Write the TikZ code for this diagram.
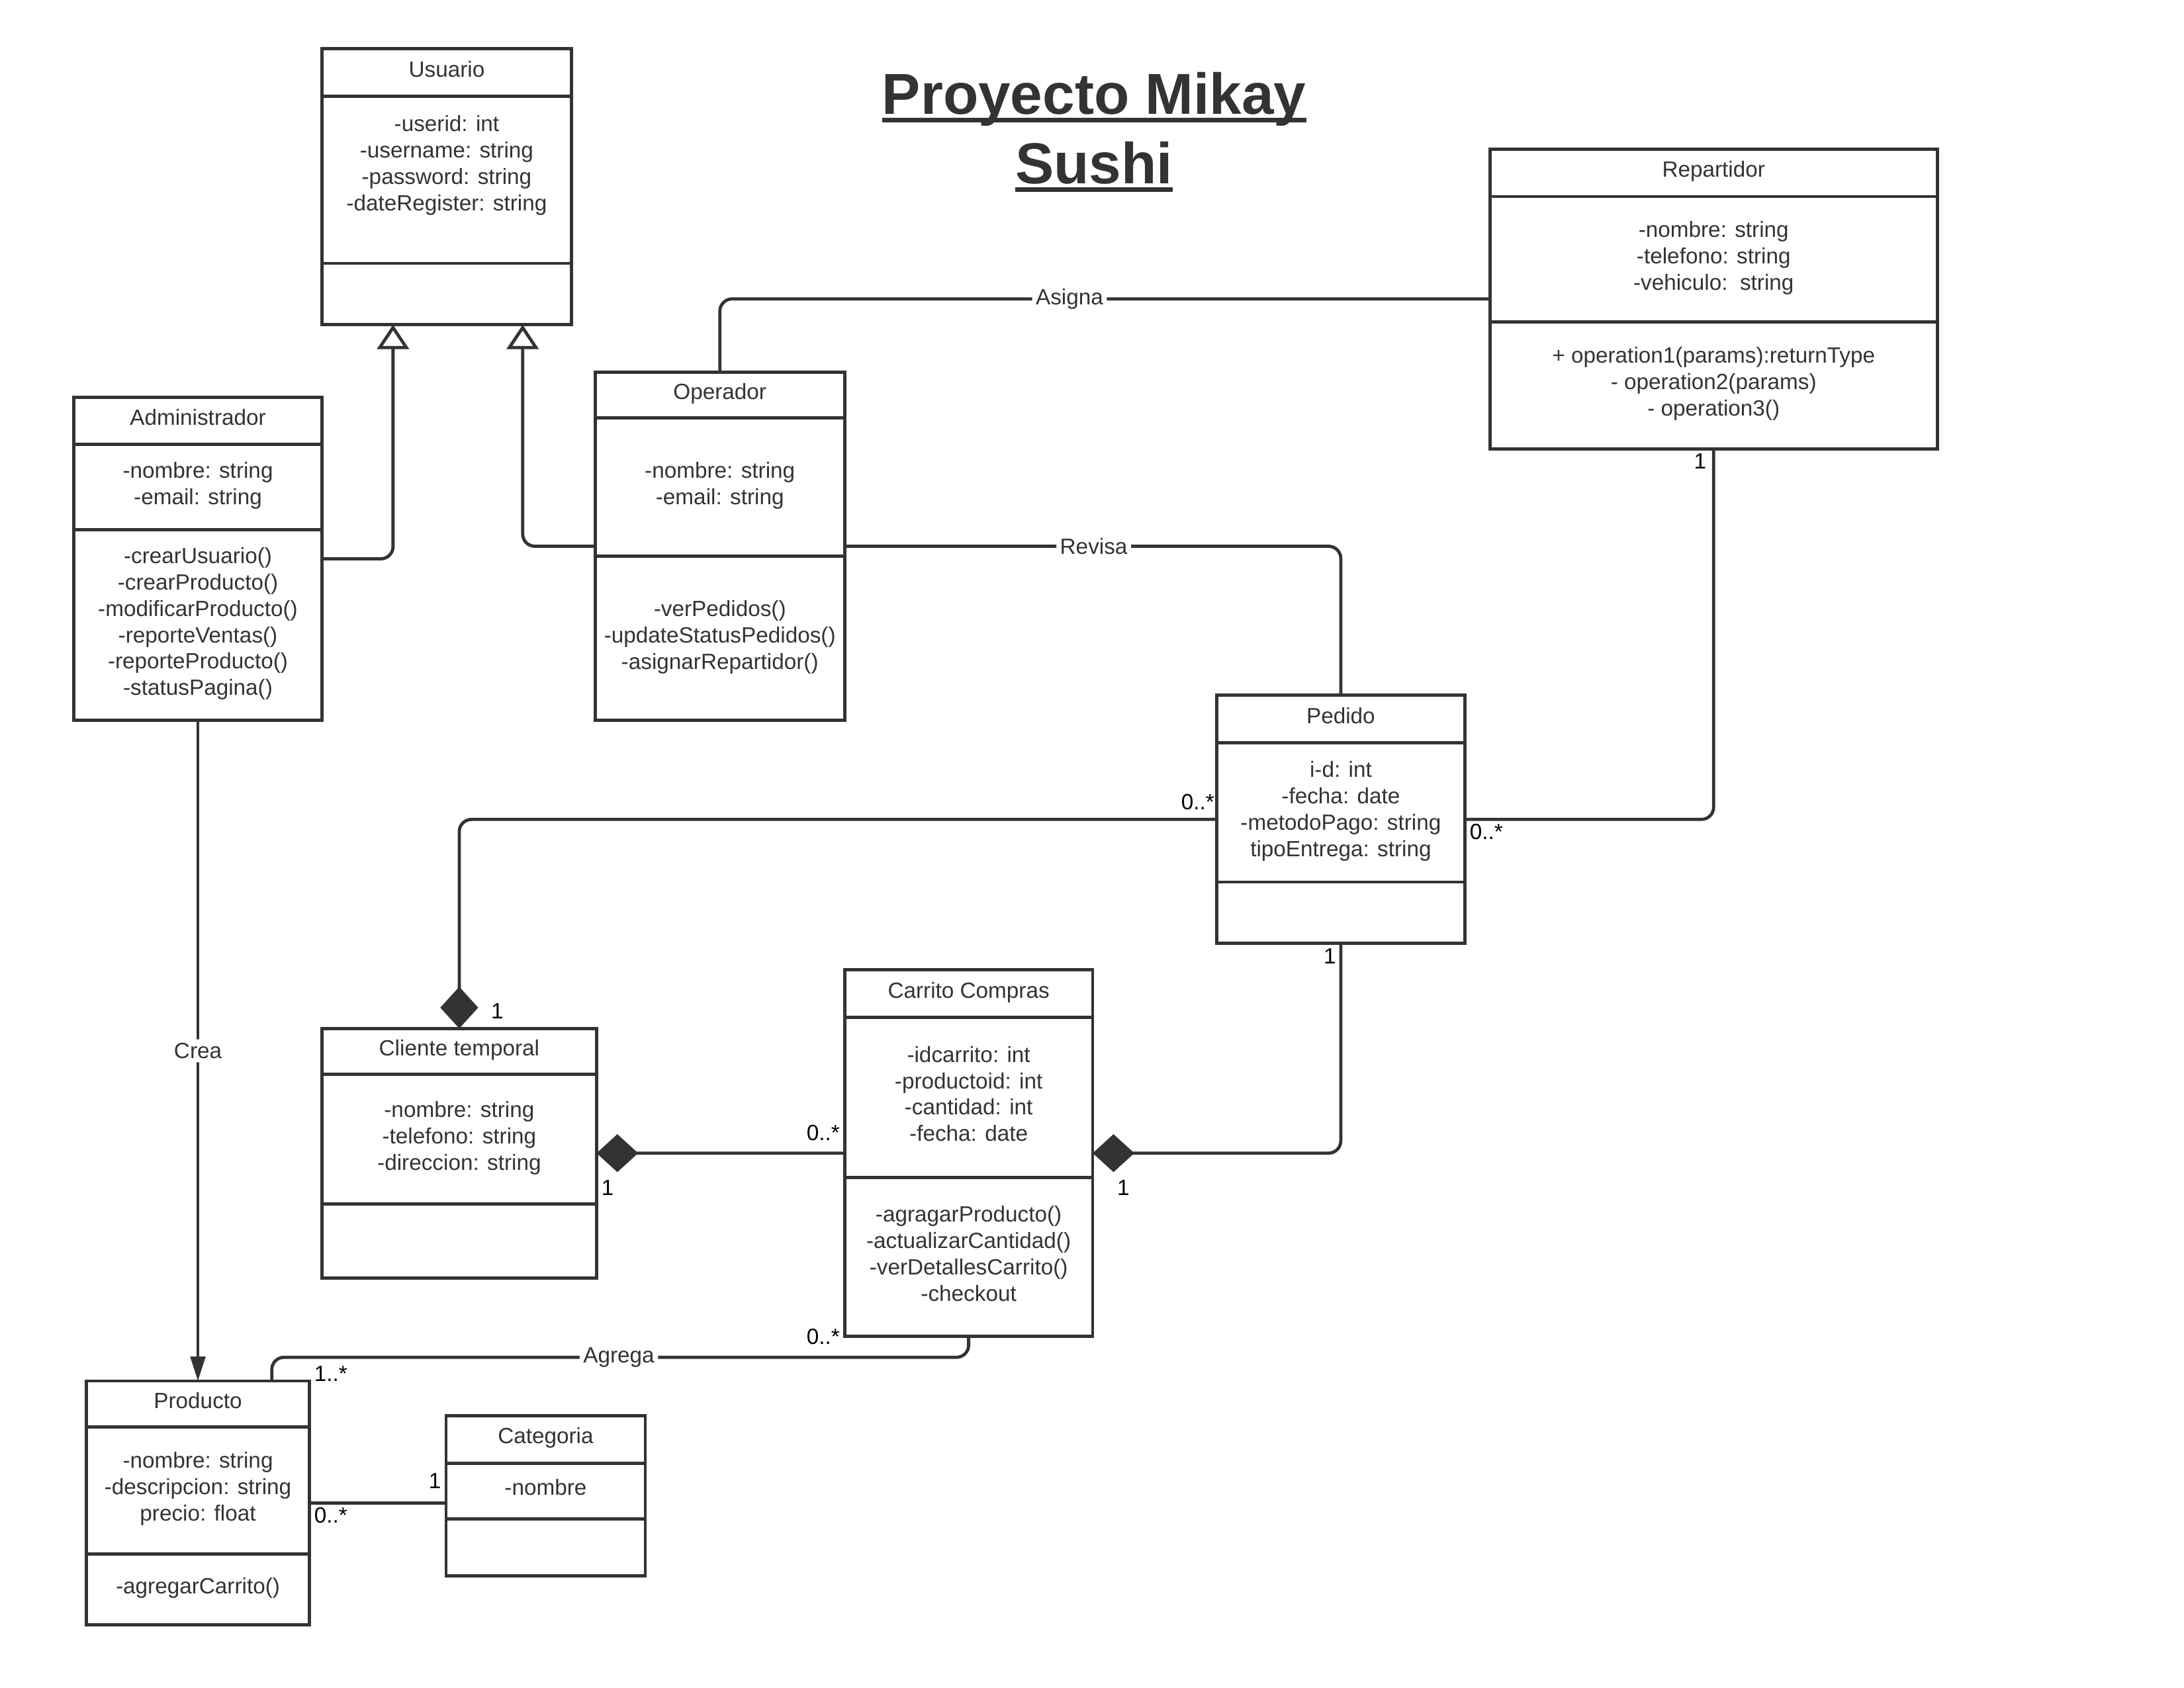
\documentclass[tikz,border=0pt]{standalone}
\usepackage{fontspec}
\setmainfont{Liberation Sans}
\usetikzlibrary{positioning,fit,calc,arrows.meta}
\definecolor{tinta}{HTML}{333333}

\begin{document}
\begin{tikzpicture}[
  x=0.02cm, y=-0.02cm,
  font=\fontsize{9}{10.8}\selectfont, text=tinta,
  every node/.style={inner sep=0pt, outer sep=0pt},
  node distance=0pt
]
\tikzset{
  caixa/.style 2 args={draw=tinta, line width=1.3pt, align=center, text depth=3pt,
    minimum width=#1*0.02cm, minimum height=#2*0.02cm},
  classe/.style={inner sep=0pt, outer sep=0pt},
  liga/.style={draw=tinta, line width=1.3pt, rounded corners=5pt},
  rotulo/.style={fill=white, inner sep=1.5pt},
  mult/.style={text=black, inner sep=2pt},
  heranca/.style={-{Triangle[open, length=10pt, width=13pt]}},
  comp/.style={{Diamond[length=17pt, width=15.5pt]}-},
  titulo/.style={font={\fontsize{23.6}{28}\selectfont\bfseries}, anchor=base}
}
\useasboundingbox (0,0) rectangle (1567,1211);

% titulo
\node[titulo] (tit1) at (785,82) {Proyecto Mikay};
\node[titulo] (tit2) at (785,132) {Sushi};
\draw[tinta, line width=2pt] ([yshift=-2.3pt]tit1.base west) -- ([yshift=-2.3pt]tit1.base east);
\draw[tinta, line width=2pt] ([yshift=-2.3pt]tit2.base west) -- ([yshift=-2.3pt]tit2.base east);

% Usuario
\node[caixa={179}{34}] (usrH) at (320.5,52) {Usuario};
\node[caixa={179}{120}, below=of usrH] (usrA) {-userid: int\\-username: string\\-password: string\\-dateRegister: string\\ ~};
\node[caixa={179}{44}, below=of usrA] (usrM) {};
\node[classe, fit=(usrH)(usrM)] (usr) {};

% Administrador
\node[caixa={178}{34}] (admH) at (142,302) {Administrador};
\node[caixa={178}{61}, below=of admH] (admA) {-nombre: string\\-email: string};
\node[caixa={178}{137}, below=of admA] (admM) {-crearUsuario()\\-crearProducto()\\-modificarProducto()\\-reporteVentas()\\-reporteProducto()\\-statusPagina()};
\node[classe, fit=(admH)(admM)] (adm) {};

% Operador
\node[caixa={179}{33}] (opeH) at (516.5,283.5) {Operador};
\node[caixa={179}{99}, below=of opeH] (opeA) {-nombre: string\\-email: string};
\node[caixa={179}{118}, below=of opeA] (opeM) {-verPedidos()\\-updateStatusPedidos()\\-asignarRepartidor()};
\node[classe, fit=(opeH)(opeM)] (ope) {};

% Repartidor
\node[caixa={321}{34}] (repH) at (1229.5,124) {Repartidor};
\node[caixa={321}{90}, below=of repH] (repA) {-nombre: string\\-telefono: string\\-vehiculo:\ \ string};
\node[caixa={321}{91}, below=of repA] (repM) {+ operation1(params):returnType\\- operation2(params)\\- operation3()};
\node[classe, fit=(repH)(repM)] (rep) {};

% Pedido
\node[caixa={178}{34}] (pedH) at (962,516) {Pedido};
\node[caixa={178}{100}, below=of pedH] (pedA) {i-d: int\\-fecha: date\\-metodoPago: string\\tipoEntrega: string};
\node[caixa={178}{44}, below=of pedA] (pedM) {};
\node[classe, fit=(pedH)(pedM)] (ped) {};

% Cliente temporal
\node[caixa={197}{33}] (cliH) at (329.5,754.5) {Cliente temporal};
\node[caixa={197}{93}, below=of cliH] (cliA) {-nombre: string\\-telefono: string\\-direccion: string};
\node[caixa={197}{53}, below=of cliA] (cliM) {};
\node[classe, fit=(cliH)(cliM)] (cli) {};

% Carrito Compras
\node[caixa={178}{34}] (carH) at (695,713) {Carrito Compras};
\node[caixa={178}{115}, below=of carH] (carA) {-idcarrito: int\\-productoid: int\\-cantidad: int\\-fecha: date};
\node[caixa={178}{114}, below=of carA] (carM) {-agragarProducto()\\-actualizarCantidad()\\-verDetallesCarrito()\\-checkout};
\node[classe, fit=(carH)(carM)] (car) {};

% Producto
\node[caixa={160}{33}] (proH) at (142,1007.5) {Producto};
\node[caixa={160}{91}, below=of proH] (proA) {-nombre: string\\-descripcion: string\\precio: float};
\node[caixa={160}{51}, below=of proA] (proM) {-agregarCarrito()};
\node[classe, fit=(proH)(proM)] (pro) {};

% Categoria
\node[caixa={143}{34}] (catH) at (391.5,1033) {Categoria};
\node[caixa={143}{40}, below=of catH] (catA) {-nombre};
\node[caixa={143}{41}, below=of catA] (catM) {};
\node[classe, fit=(catH)(catM)] (cat) {};

% heranca
\draw[liga, heranca] (adm.east) -| ($(usr.south)+(-38.5,0)$);
\draw[liga, heranca] (ope.west) -| ($(usr.south)+(54.5,0)$);

% associacoes
\draw[liga] (ope.north) |- node[rotulo, pos=0.727] (lAsi) {Asigna} (rep.west);
\draw[liga] (ope.east) -| node[rotulo, pos=0.251] (lRev) {Revisa} (ped.north);
\draw[liga] (rep.south) |- (ped.east)
  node[mult, at start, below left, xshift=-1pt] (mRep) {1}
  node[mult, at end, below right] (mPed1) {0..*};
\draw[liga, comp] (cli.north) |- (ped.west)
  node[mult, at start, above right, xshift=11pt, yshift=2pt] (mCli1) {1}
  node[mult, at end, above left, xshift=1pt, yshift=2pt] (mPed2) {0..*};
\draw[liga, comp] (cli.east) -- (car.west)
  node[mult, at start, below right, yshift=-9pt] (mCli2) {1}
  node[mult, at end, above left, yshift=3pt] (mCar1) {0..*};
\draw[liga, comp] (car.east) -| (ped.south)
  node[mult, at start, below right, xshift=8pt, yshift=-9pt] (mCar3) {1}
  node[mult, at end, below left] (mPed3) {1};
\draw[liga, -{Triangle[length=10pt, width=6pt]}] (adm.south) -- node[rotulo] (lCrea) {Crea} (pro.north);
\draw[liga] (car.south) -- ++(0,15) -| node[rotulo, pos=0.251] (lAgr) {Agrega} ($(pro.north)+(53,0)$);
\node[mult, anchor=east] (mCar2) at (car.south west) {0..*};
\node[mult, anchor=south west, yshift=-2pt] (mPro1) at (pro.north east) {1..*};
\draw[liga] (pro.east) -- (pro.east -| cat.west)
  node[mult, at start, below right] (mPro2) {0..*}
  node[mult, at end, above left, yshift=4pt] (mCat) {1};
\end{tikzpicture}
\end{document}
